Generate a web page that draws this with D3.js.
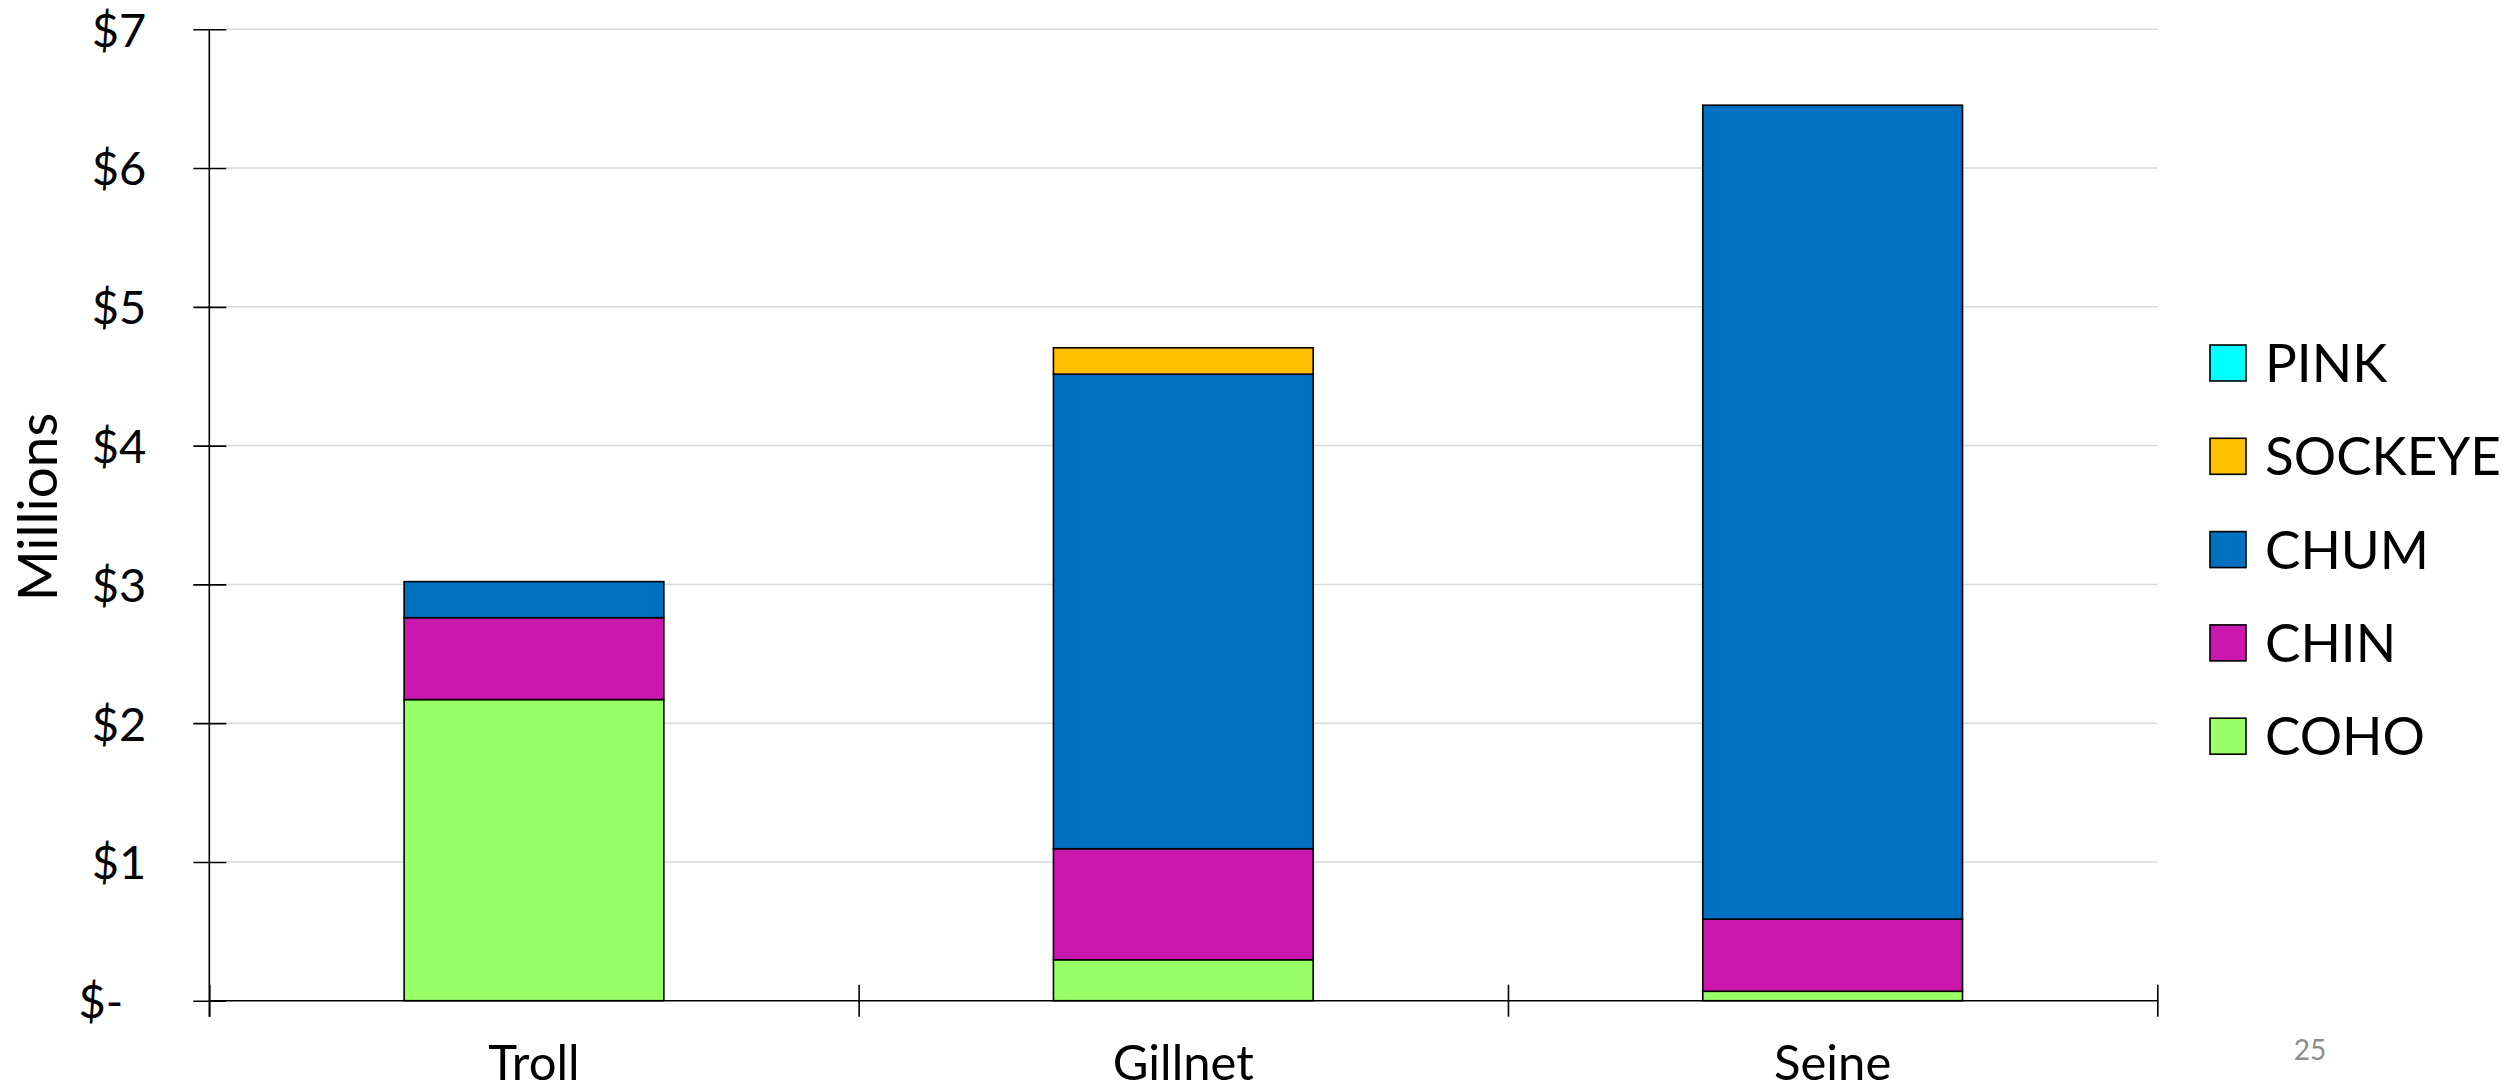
<!DOCTYPE html>
<html>
<head>
<meta charset="utf-8">
<script src="https://cdn.jsdelivr.net/npm/d3@7"></script>
<style>
  html, body { margin: 0; padding: 0; background: #fff; }
  svg { display: block; }
  text { font-family: Lato, "Noto Sans", sans-serif; fill: #000; }
</style>
</head>
<body>
<svg id="chart" width="2504" height="1091"></svg>
<script>
// ---- data ----
const categories = ["Troll", "Gillnet", "Seine"];
const seriesNames = ["COHO", "CHIN", "CHUM", "SOCKEYE", "PINK"]; // stacking order, bottom to top
const coho    = [2.17, 0.295, 0.068];
const chin    = [0.59, 0.80, 0.52];
const chum    = [0.26, 3.42, 5.865];
const sockeye = [0.00, 0.19, 0.00];
const pink    = [0.00, 0.00, 0.00];
const seriesColors = ["#99FF66", "#CA18AF", "#0070C0", "#FFC000", "#00FFFF"];
const yTicks = [0, 1, 2, 3, 4, 5, 6, 7];
const yTitle = "Millions";
const pageNumber = "25";

(function () {
// ---- build table ----
const seriesValues = [coho, chin, chum, sockeye, pink];
const table = categories.map((c, i) => {
  const row = { category: c };
  seriesNames.forEach((s, j) => row[s] = seriesValues[j][i]);
  return row;
});
const stacked = d3.stack().keys(seriesNames)(table);

// ---- layout ----
const svg = d3.select("#chart");
const pLeft = 209.3, pRight = 2157.3, pTop = 29.3, pBottom = 1000.7;

const x = d3.scaleBand().domain(categories).range([pLeft, pRight])
  .paddingInner(0.6).paddingOuter(0.3);
const xb = d3.scaleLinear().domain([0, categories.length]).range([pLeft, pRight]);
const y = d3.scaleLinear().domain([0, 7]).range([pBottom, pTop]);
const color = d3.scaleOrdinal().domain(seriesNames).range(seriesColors);

// gridlines
svg.append("g")
  .selectAll("line")
  .data(yTicks.filter(d => d > 0))
  .join("line")
  .attr("x1", pLeft + 17).attr("x2", pRight)
  .attr("y1", d => y(d)).attr("y2", d => y(d))
  .attr("stroke", "#d9d9d9").attr("stroke-width", 1.5);

// bars
svg.append("g")
  .selectAll("g")
  .data(stacked)
  .join("g")
  .attr("fill", d => color(d.key))
  .selectAll("rect")
  .data(d => d.filter(p => p[1] - p[0] > 0))
  .join("rect")
  .attr("x", d => x(d.data.category))
  .attr("width", x.bandwidth())
  .attr("y", d => y(d[1]))
  .attr("height", d => y(d[0]) - y(d[1]))
  .attr("stroke", "#000").attr("stroke-width", 1.6);

// y axis
const yAxis = d3.axisLeft(y).tickValues(yTicks).tickSize(16).tickPadding(47)
  .tickFormat(d => d === 0 ? "$-" : "$" + d);
const gy = svg.append("g").attr("transform", `translate(${pLeft},0)`).call(yAxis);
gy.select(".domain").remove();
gy.selectAll(".tick line").attr("x1", 17).attr("x2", -16)
  .attr("stroke", "#000").attr("stroke-width", 1.6);
gy.selectAll(".tick text")
  .attr("font-size", 47).attr("font-family", "Lato")
  .attr("dy", "0.36em")
  .attr("dx", d => d === 0 ? -23 : 0);
svg.append("line")
  .attr("x1", pLeft).attr("x2", pLeft)
  .attr("y1", y(7)).attr("y2", y(0) + 16)
  .attr("stroke", "#000").attr("stroke-width", 1.6);

// x axis boundaries
const xAxisB = d3.axisBottom(xb).tickValues(d3.range(categories.length + 1))
  .tickSize(16).tickFormat("");
const gxb = svg.append("g").attr("transform", `translate(0,${pBottom})`).call(xAxisB);
gxb.select(".domain").attr("stroke", "#000").attr("stroke-width", 1.6).attr("d", `M${pLeft},0H${pRight}`);
gxb.selectAll(".tick line").attr("y1", -16).attr("y2", 16)
  .attr("stroke", "#000").attr("stroke-width", 1.6);

// x labels
const xAxis = d3.axisBottom(x).tickSize(0).tickPadding(0);
const gx = svg.append("g").attr("transform", `translate(0,${pBottom})`).call(xAxis);
gx.select(".domain").remove();
gx.selectAll(".tick text")
  .attr("font-size", 49).attr("font-family", "Lato")
  .attr("y", 79).attr("dy", 0);

// y title
svg.append("text")
  .attr("transform", `translate(57,507) rotate(-90)`)
  .attr("text-anchor", "middle")
  .attr("font-size", 55)
  .text(yTitle);

// legend
const legendOrder = seriesNames.slice().reverse();
const lg = svg.append("g").attr("transform", "translate(2210,363)");
const li = lg.selectAll("g").data(legendOrder).join("g")
  .attr("transform", (d, i) => `translate(0,${i * 93.3})`);
li.append("rect").attr("x", 0).attr("y", -18).attr("width", 36).attr("height", 36)
  .attr("fill", d => color(d)).attr("stroke", "#000").attr("stroke-width", 1.6);
li.append("text").attr("x", 55).attr("y", 0).attr("dy", "0.36em")
  .attr("font-size", 53).text(d => d);

// page number
svg.append("text")
  .attr("x", 2310).attr("y", 1060).attr("text-anchor", "middle")
  .attr("font-size", 28).style("fill", "#8c8c8c")
  .text(pageNumber);
})();
</script>
</body>
</html>
